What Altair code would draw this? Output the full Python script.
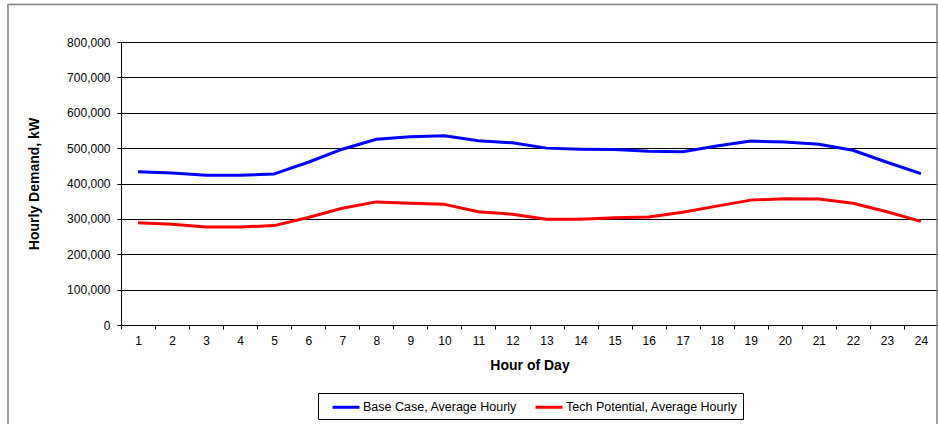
import altair as alt
import pandas as pd

hours = list(range(1, 25))
base_case = [433000, 430000, 423000, 423000, 427000, 460000, 497000, 525000,
             532000, 535000, 521000, 515000, 500000, 497000, 496000, 491000,
             490000, 506000, 520000, 517000, 511000, 494000, 460000, 428000]
tech_potential = [289000, 285000, 277000, 277000, 281000, 304000, 330000, 348000,
                  344000, 341000, 320000, 313000, 299000, 299000, 303000, 305000,
                  319000, 336000, 353000, 357000, 356000, 344000, 320000, 293000]
series_names = ["Base Case, Average Hourly", "Tech Potential, Average Hourly"]
series_colors = ["#0000FF", "#FF0000"]
y_ticks = [0, 100000, 200000, 300000, 400000, 500000, 600000, 700000, 800000]

df = pd.concat([
    pd.DataFrame({"hour": hours, "value": base_case, "series": series_names[0]}),
    pd.DataFrame({"hour": hours, "value": tech_potential, "series": series_names[1]}),
])

FONT = "Liberation Sans"

lines = alt.Chart(df).mark_line(strokeWidth=3, strokeJoin="round").encode(
    x=alt.X("hour:O", bandPosition=0.5,
            scale=alt.Scale(type="band", paddingInner=0, paddingOuter=0),
            axis=alt.Axis(title="Hour of Day", labelAngle=0, tickBand="extent",
                          grid=False, domainColor="black", tickColor="black",
                          tickSize=4, labelPadding=6, labelFontSize=12,
                          labelColor="black", labelFont=FONT,
                          titleFont=FONT, titleFontSize=14, titleFontWeight="bold",
                          titleColor="black", titlePadding=12)),
    y=alt.Y("value:Q",
            scale=alt.Scale(domain=[0, 800000], nice=False, zero=True),
            axis=alt.Axis(title="Hourly Demand, kW", values=y_ticks, format=",d",
                          grid=True, gridColor="black", gridWidth=1,
                          domainColor="black", tickColor="black", tickSize=4,
                          labelPadding=7, labelFontSize=12, labelColor="black",
                          labelFont=FONT, titleFont=FONT, titleFontSize=14,
                          titleFontWeight="bold", titleColor="black",
                          titlePadding=25)),
    color=alt.Color("series:N",
                    scale=alt.Scale(domain=series_names, range=series_colors),
                    legend=alt.Legend(title=None, orient="none", legendX=197,
                                      legendY=351, direction="horizontal",
                                      symbolType="M-1.8,0H1.8", symbolSize=225,
                                      symbolStrokeWidth=3, symbolOffset=14,
                                      labelFont=FONT,
                                      labelFontSize=12.5, labelColor="black",
                                      labelOffset=8, columnPadding=8,
                                      labelLimit=400,
                                      padding=5, strokeColor="black")),
    order=alt.Order("hour:O"),
)

border = alt.Chart(pd.DataFrame({"a": [0]})).mark_rect(
    fill="white", fillOpacity=0, stroke="#808080", strokeWidth=1.5
).encode(
    x=alt.value(-113), x2=alt.value(816), y=alt.value(-37.5), y2=alt.value(420)
)

chart = alt.layer(border, lines).properties(
    width=817, height=283,
    autosize=alt.AutoSizeParams(type="none"),
    padding={"left": 121, "top": 42, "right": 0, "bottom": 99},
).configure_view(strokeWidth=0).configure(background="white")

chart.save("out.html", embed_options={"renderer": "svg", "actions": False})
